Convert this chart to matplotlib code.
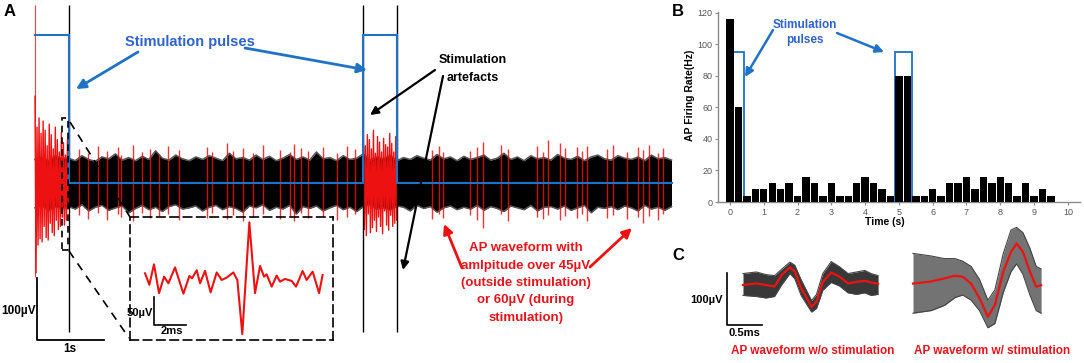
import numpy as np
import matplotlib
matplotlib.use('Agg')
import matplotlib.pyplot as plt
from matplotlib.patches import Rectangle, FancyArrowPatch

plt.rcParams['font.family'] = ['Liberation Sans', 'DejaVu Sans']
plt.rcParams['font.weight'] = 'bold'

W, H = 1084, 363
BLUE = '#1f72c6'
BLUE_TXT = '#2e62cc'
RED = '#ee1111'
RED_TXT = '#e8141c'

# ---------------- Panel A data (time in s, voltage in uV) ----------------
stim_start = [0.0, 4.9]
stim_end = [0.5, 5.4]
stim_level = 239
record_end = 9.5
artefact_times = [0.5, 4.9, 5.4]
artefact_top = 287
artefact_bottom = -240
noise_step = 0.1
noise_upper = [38, 42, 36, 44, 40,
               40, 36, 44, 38, 35, 42, 39, 47, 37, 41, 36, 43, 38, 52, 40, 37, 45, 39, 36, 42,
               38, 44, 40, 36, 48, 39, 41, 37, 45, 38, 43, 36, 40, 46, 38, 42, 37, 50, 39, 41,
               36, 44, 38, 40, 47, 37, 42, 39, 45, 36, 41, 38, 44, 40, 37, 46, 39, 42, 36, 43,
               38, 41, 45, 37, 40, 48, 38, 42, 36, 44, 39, 41, 37, 46, 40, 38, 43, 36, 42, 45,
               39, 37, 44, 40, 38, 42, 36, 45, 39, 41, 37]
noise_lower = [-40, -36, -45, -38, -42,
               -38, -42, -35, -45, -39, -36, -44, -40, -37, -48, -41, -36, -43, -39, -46, -38, -35, -42, -40, -37,
               -45, -39, -36, -43, -38, -41, -47, -37, -40, -35, -44, -39, -42, -36, -50, -38, -41, -37, -45, -40,
               -36, -43, -39, -46, -38, -35, -42, -40, -44, -37, -39, -45, -36, -41, -38, -47, -40, -37, -43, -39,
               -42, -36, -44, -38, -41, -46, -37, -40, -43, -36, -45, -39, -38, -42, -37, -44, -40, -36, -48, -39,
               -41, -38, -43, -37, -40, -45, -36, -42, -39, -44, -38]
stim1_trace = [140, -145, 90, -100, 105, -90, 80, -95, 100, -70, 85, -88, 60, -92, 95, -65, 78,
               -80, 55, -85, 90, -60, 70, -75, 50, -70, 82, -55, 65, -68, 45, -60, 70, -40]
stim2_trace = [80, -75, 60, -85, 78, -50, 70, -80, 55, -72, 85, -60, 48, -78, 75, -55, 66,
               -70, 50, -82, 72, -45, 62, -68, 58, -76, 80, -52, 64, -70, 50, -65, 75, -60]
spike_times = [0.66, 0.79, 0.94, 1.07, 1.24, 1.28, 1.46, 1.60, 1.72, 1.85, 1.99, 2.15, 2.57, 2.64,
               2.87, 2.96, 3.10, 3.25, 3.40, 3.66, 3.81, 3.87, 3.97, 4.07, 4.30, 4.51, 4.66, 4.78,
               5.93, 6.03, 6.09, 6.49, 6.60, 6.69, 6.96, 7.06, 7.49, 7.58, 7.66, 7.84, 7.91, 8.09,
               8.16, 8.24, 8.54, 8.63, 8.84, 9.00, 9.07, 9.16, 9.30, 9.37]
spike_hi = [55, 48, 60, 52, 58, 45, 62, 50, 55, 47, 60, 53, 58, 50, 65, 52, 57, 49, 61, 54,
            50, 63, 56, 52, 58, 48, 60, 55,
            54, 60, 50, 52, 58, 66, 62, 55, 60, 50, 70, 64, 56, 58, 52, 60, 55, 62, 50, 58,
            53, 61, 49, 57]
spike_lo = [-52, -58, -48, -60, -50, -55, -62, -49, -57, -53, -50, -60, -56, -48, -58, -52, -61, -55,
            -50, -58, -54, -62, -49, -57, -53, -60, -55, -50,
            -58, -50, -56, -52, -60, -72, -50, -62, -55, -58, -52, -60, -54, -57, -50, -62, -56, -52,
            -58, -55, -65, -53, -60, -50]

# inset waveform (ms, uV)
inset_t = [0, 0.27, 0.56, 0.875, 1.19, 1.46, 1.875, 2.4, 2.77, 2.94, 3.23, 3.44, 3.75, 4.1,
           4.48, 4.79, 5.1, 5.52, 5.77, 6.08, 6.52, 6.875, 7.19, 7.44, 7.6, 7.92, 8.23, 8.44,
           8.75, 9.17, 9.44, 9.85, 10.1, 10.48, 10.88, 11.1]
inset_v = [15.5, -5, 31.5, -20, 9.5, -2.4, 26, -21, 10.7, 6.5, 21, -2.4, 20, -18.5,
           17, 3.6, 7.7, 17, 3.6, -93, 106.5, -20, 28.6, 9.5, 13.7, -8.3, 11.3, 0.6,
           5.4, 1.8, -8.3, 19.6, 3.6, 18.5, -20, 12.5]

# ---------------- Panel B data ----------------
bin_centers = [0, 0.25, 0.5, 0.75, 1.0, 1.25, 1.5, 1.75, 2.0, 2.25, 2.5, 2.75, 3.0, 3.25, 3.5,
               3.75, 4.0, 4.25, 4.5, 4.75, 5.0, 5.25, 5.5, 5.75, 6.0, 6.25, 6.5, 6.75, 7.0,
               7.25, 7.5, 7.75, 8.0, 8.25, 8.5, 8.75, 9.0, 9.25, 9.5]
firing_rate = [116, 60, 4, 8, 8, 12, 8, 12, 4, 16, 12, 4, 12, 4, 4, 12, 16, 12, 8, 4,
               80, 80, 4, 4, 8, 4, 12, 12, 16, 8, 16, 12, 16, 12, 4, 12, 4, 8, 4]
bstim_start = [0.1, 4.88]
bstim_end = [0.41, 5.39]
bstim_height = 95

# ---------------- Panel C data (ms, uV) ----------------
cL_t = [0, 0.19, 0.33, 0.45, 0.55, 0.67, 0.74, 0.83, 0.98, 1.05, 1.14, 1.26, 1.38, 1.5, 1.62, 1.74, 1.83, 1.93]
cL_mean = [0, 3, 0, -3, 19, 34, 26, -6, -42, -32, 6, 24, 16, 3, 6, 8, 5, 2]
cL_up = [22, 25, 20, 18, 30, 44, 38, 10, -30, -18, 22, 45, 35, 22, 25, 28, 22, 18]
cL_lo = [-20, -22, -25, -22, 0, 22, 12, -20, -52, -45, -10, 5, -2, -15, -18, -15, -20, -18]
cR_t = [0, 0.26, 0.45, 0.6, 0.71, 0.83, 0.95, 1.07, 1.17, 1.29, 1.40, 1.48, 1.57, 1.67, 1.76, 1.83]
cR_mean = [-3, 1, 7, 12, 10, -3, -31, -67, -44, 20, 58, 74, 58, 20, -9, -6]
cR_up = [55, 50, 45, 45, 40, 30, 5, -35, -15, 55, 100, 105, 95, 65, 30, 25]
cR_lo = [-60, -55, -45, -30, -25, -35, -55, -88, -80, -20, 20, 35, 15, -25, -55, -60]

fig = plt.figure(figsize=(W / 100, H / 100), dpi=100)


def fp(x, y):
    return (x, H - y)


def ftext(x, y, s, **kw):
    fig.text(x / W, 1 - y / H, s, **kw)


def farrow(x1, y1, x2, y2, color, lw=2.0, ms=14):
    fig.add_artist(FancyArrowPatch(
        fp(x1, y1), fp(x2, y2), transform=None, arrowstyle='-|>',
        mutation_scale=ms, color=color, lw=lw, shrinkA=0, shrinkB=0))


# ================= Panel A =================
def px2t(px):
    return (px - 35) / 67.0


def py2v(py):
    return (183 - py) / 0.62


axA = fig.add_axes([0, 0, 680 / W, 1])
axA.set_xlim(px2t(0), px2t(680))
axA.set_ylim(py2v(363), py2v(0))
axA.axis('off')

t_noise = np.arange(len(noise_upper)) * noise_step
axA.fill_between(t_noise, noise_lower, noise_upper, color='black', lw=0, zorder=1)
axA.plot(t_noise, noise_upper, color='#555555', lw=1.1, zorder=1)
axA.plot(t_noise, noise_lower, color='#555555', lw=1.1, zorder=1)

for s, e, tr in zip(stim_start, stim_end, [stim1_trace, stim2_trace]):
    axA.plot(np.linspace(s, e, len(tr)), tr, color=RED, lw=1.0, zorder=2)

axA.vlines(spike_times, spike_lo, spike_hi, color=RED, lw=1.0, alpha=0.85, zorder=2)

axA.vlines(artefact_times, artefact_bottom, artefact_top, color='black', lw=1.0, zorder=2.5)
axA.vlines([stim_start[0]], py2v(277), artefact_top, color=RED, lw=0.8, alpha=0.8, zorder=2.5)

pulse_t, pulse_v = [], []
for s, e in zip(stim_start, stim_end):
    pulse_t += [s, s, e, e]
    pulse_v += [0, stim_level, stim_level, 0]
pulse_t += [record_end]
pulse_v += [0]
pulse_v[0] = stim_level
axA.plot(pulse_t, pulse_v, color=BLUE, lw=1.5, zorder=3, solid_joinstyle='miter')

# scale bar 100 uV / 1 s
axA.plot([px2t(37), px2t(37), px2t(37) + 1.0], [py2v(278), py2v(278) - 100, py2v(278) - 100],
         color='black', lw=1.3, zorder=3)
ftext(36, 311, '100µV', fontsize=8.5, ha='right', va='center')
ftext(70, 349, '1s', fontsize=8.5, ha='center', va='center')

# zoom box & connectors
axA.add_patch(Rectangle((px2t(62), py2v(250)), px2t(68) - px2t(62), py2v(118) - py2v(250),
                        fill=False, ec='black', lw=1.2, ls=(0, (4, 3)), zorder=4))
axA.plot([px2t(70), px2t(130)], [py2v(122), py2v(217)], color='black', lw=1.2, ls=(0, (5, 4)), zorder=4)
axA.plot([px2t(69), px2t(129)], [py2v(251), py2v(338)], color='black', lw=1.2, ls=(0, (5, 4)), zorder=4)

# inset
axI = fig.add_axes([130 / W, (H - 340) / H, 203 / W, 123 / H])
axI.set_facecolor('none')
axI.set_xlim(-0.94, 11.75)
axI.set_ylim(-103.6, 116)
axI.set_xticks([])
axI.set_yticks([])
for sp in axI.spines.values():
    sp.set_linestyle((0, (5, 3)))
    sp.set_linewidth(1.2)
axI.plot(inset_t, inset_v, color=RED, lw=1.5, solid_joinstyle='round')
axI.plot([0.56, 0.56, 2.56], [-26.8, -76.8, -76.8], color='black', lw=1.2)
axI.text(0.5, -55, '50µV', fontsize=8, ha='right', va='center')
axI.text(1.7, -88, '2ms', fontsize=8, ha='center', va='center')

# annotations panel A
ftext(190, 42, 'Stimulation pulses', fontsize=10.5, color=BLUE_TXT, ha='center', va='center')
farrow(138, 52, 76, 89, BLUE)
farrow(245, 48, 367, 70, BLUE)
ftext(473, 60, 'Stimulation', fontsize=9, ha='center', va='center')
ftext(473, 78, 'artefacts', fontsize=9, ha='center', va='center')
farrow(435, 70, 370, 115, 'black', lw=1.6, ms=12)
farrow(443, 76, 403, 270, 'black', lw=1.6, ms=12)
for i, line in enumerate(['AP waveform with', 'amlpitude over 45µV', '(outside stimulation)',
                          'or 60µV (during', 'stimulation)']):
    ftext(526, 248 + i * 17.5, line, fontsize=9.5, color=RED_TXT, ha='center', va='center')
farrow(462, 268, 444, 224, RED, lw=2.0)
farrow(590, 267, 632, 228, RED, lw=2.0)

# ================= Panel B =================
axB = fig.add_axes([718 / W, (H - 202) / H, 362 / W, 190 / H])
axB.set_xlim(-0.355, 10.36)
axB.set_ylim(0, 120.6)
for s, e in zip(bstim_start, bstim_end):
    axB.add_patch(Rectangle((s, 0), e - s, bstim_height, fill=False, ec=BLUE, lw=1.3, zorder=2))
axB.bar(bin_centers, firing_rate, width=0.22, color='black', zorder=3)
for k in ['top', 'right']:
    axB.spines[k].set_visible(False)
for k in ['left', 'bottom']:
    axB.spines[k].set_color('#8a8a8a')
    axB.spines[k].set_linewidth(1.0)
axB.set_xticks(range(0, 11))
axB.set_yticks(range(0, 121, 20))
axB.tick_params(labelsize=6.5, colors='#8a8a8a', labelcolor='#555555', length=2, width=0.8, pad=2)
for lab in axB.get_xticklabels() + axB.get_yticklabels():
    lab.set_fontweight('normal')
ftext(690, 95, 'AP Firing Rate(Hz)', fontsize=7.5, rotation=90, ha='center', va='center')
ftext(885, 222, 'Time (s)', fontsize=7.5, ha='center', va='center')
ftext(805, 25, 'Stimulation', fontsize=8.5, color=BLUE_TXT, ha='center', va='center')
ftext(805, 40, 'pulses', fontsize=8.5, color=BLUE_TXT, ha='center', va='center')
farrow(773, 30, 745, 77, BLUE, lw=1.8, ms=12)
farrow(837, 33, 884, 52, BLUE, lw=1.8, ms=12)

# ================= Panel C =================
axC = fig.add_axes([690 / W, (H - 345) / H, 394 / W, 120 / H])
axC.set_xlim((690 - 727) / 70, (1084 - 727) / 70)
axC.set_ylim(-115.4, 115.4)
axC.axis('off')
offL = (743 - 727) / 70
offR_t = (913 - 727) / 70
offR_v = (285 - 282) / 0.52
tL = np.array(cL_t) + offL
tR = np.array(cR_t) + offR_t
axC.fill_between(tL, cL_lo, cL_up, color='black', alpha=0.78, lw=0)
axC.plot(tL, cL_up, color='#444444', lw=0.8)
axC.plot(tL, cL_lo, color='#444444', lw=0.8)
axC.plot(tL, cL_mean, color=RED, lw=1.6)
axC.fill_between(tR, np.array(cR_lo) + offR_v, np.array(cR_up) + offR_v, color='black', alpha=0.55, lw=0)
axC.plot(tR, np.array(cR_up) + offR_v, color='#444444', lw=0.8)
axC.plot(tR, np.array(cR_lo) + offR_v, color='#444444', lw=0.8)
axC.plot(tR, np.array(cR_mean) + offR_v, color=RED, lw=1.6)
axC.plot([0, 0, 0.5], [23, -77, -77], color='black', lw=1.2)
ftext(723, 300, '100µV', fontsize=8, ha='right', va='center')
ftext(744, 333, '0.5ms', fontsize=8, ha='center', va='center')
ftext(813, 351, 'AP waveform w/o stimulation', fontsize=8.5, color=RED_TXT, ha='center', va='center')
ftext(992, 351, 'AP waveform w/ stimulation', fontsize=8.5, color=RED_TXT, ha='center', va='center')

# panel letters
ftext(10, 12, 'A', fontsize=12, ha='center', va='center')
ftext(678, 12, 'B', fontsize=12, ha='center', va='center')
ftext(678, 255, 'C', fontsize=12, ha='center', va='center')

fig.savefig('out.png', dpi=100)
